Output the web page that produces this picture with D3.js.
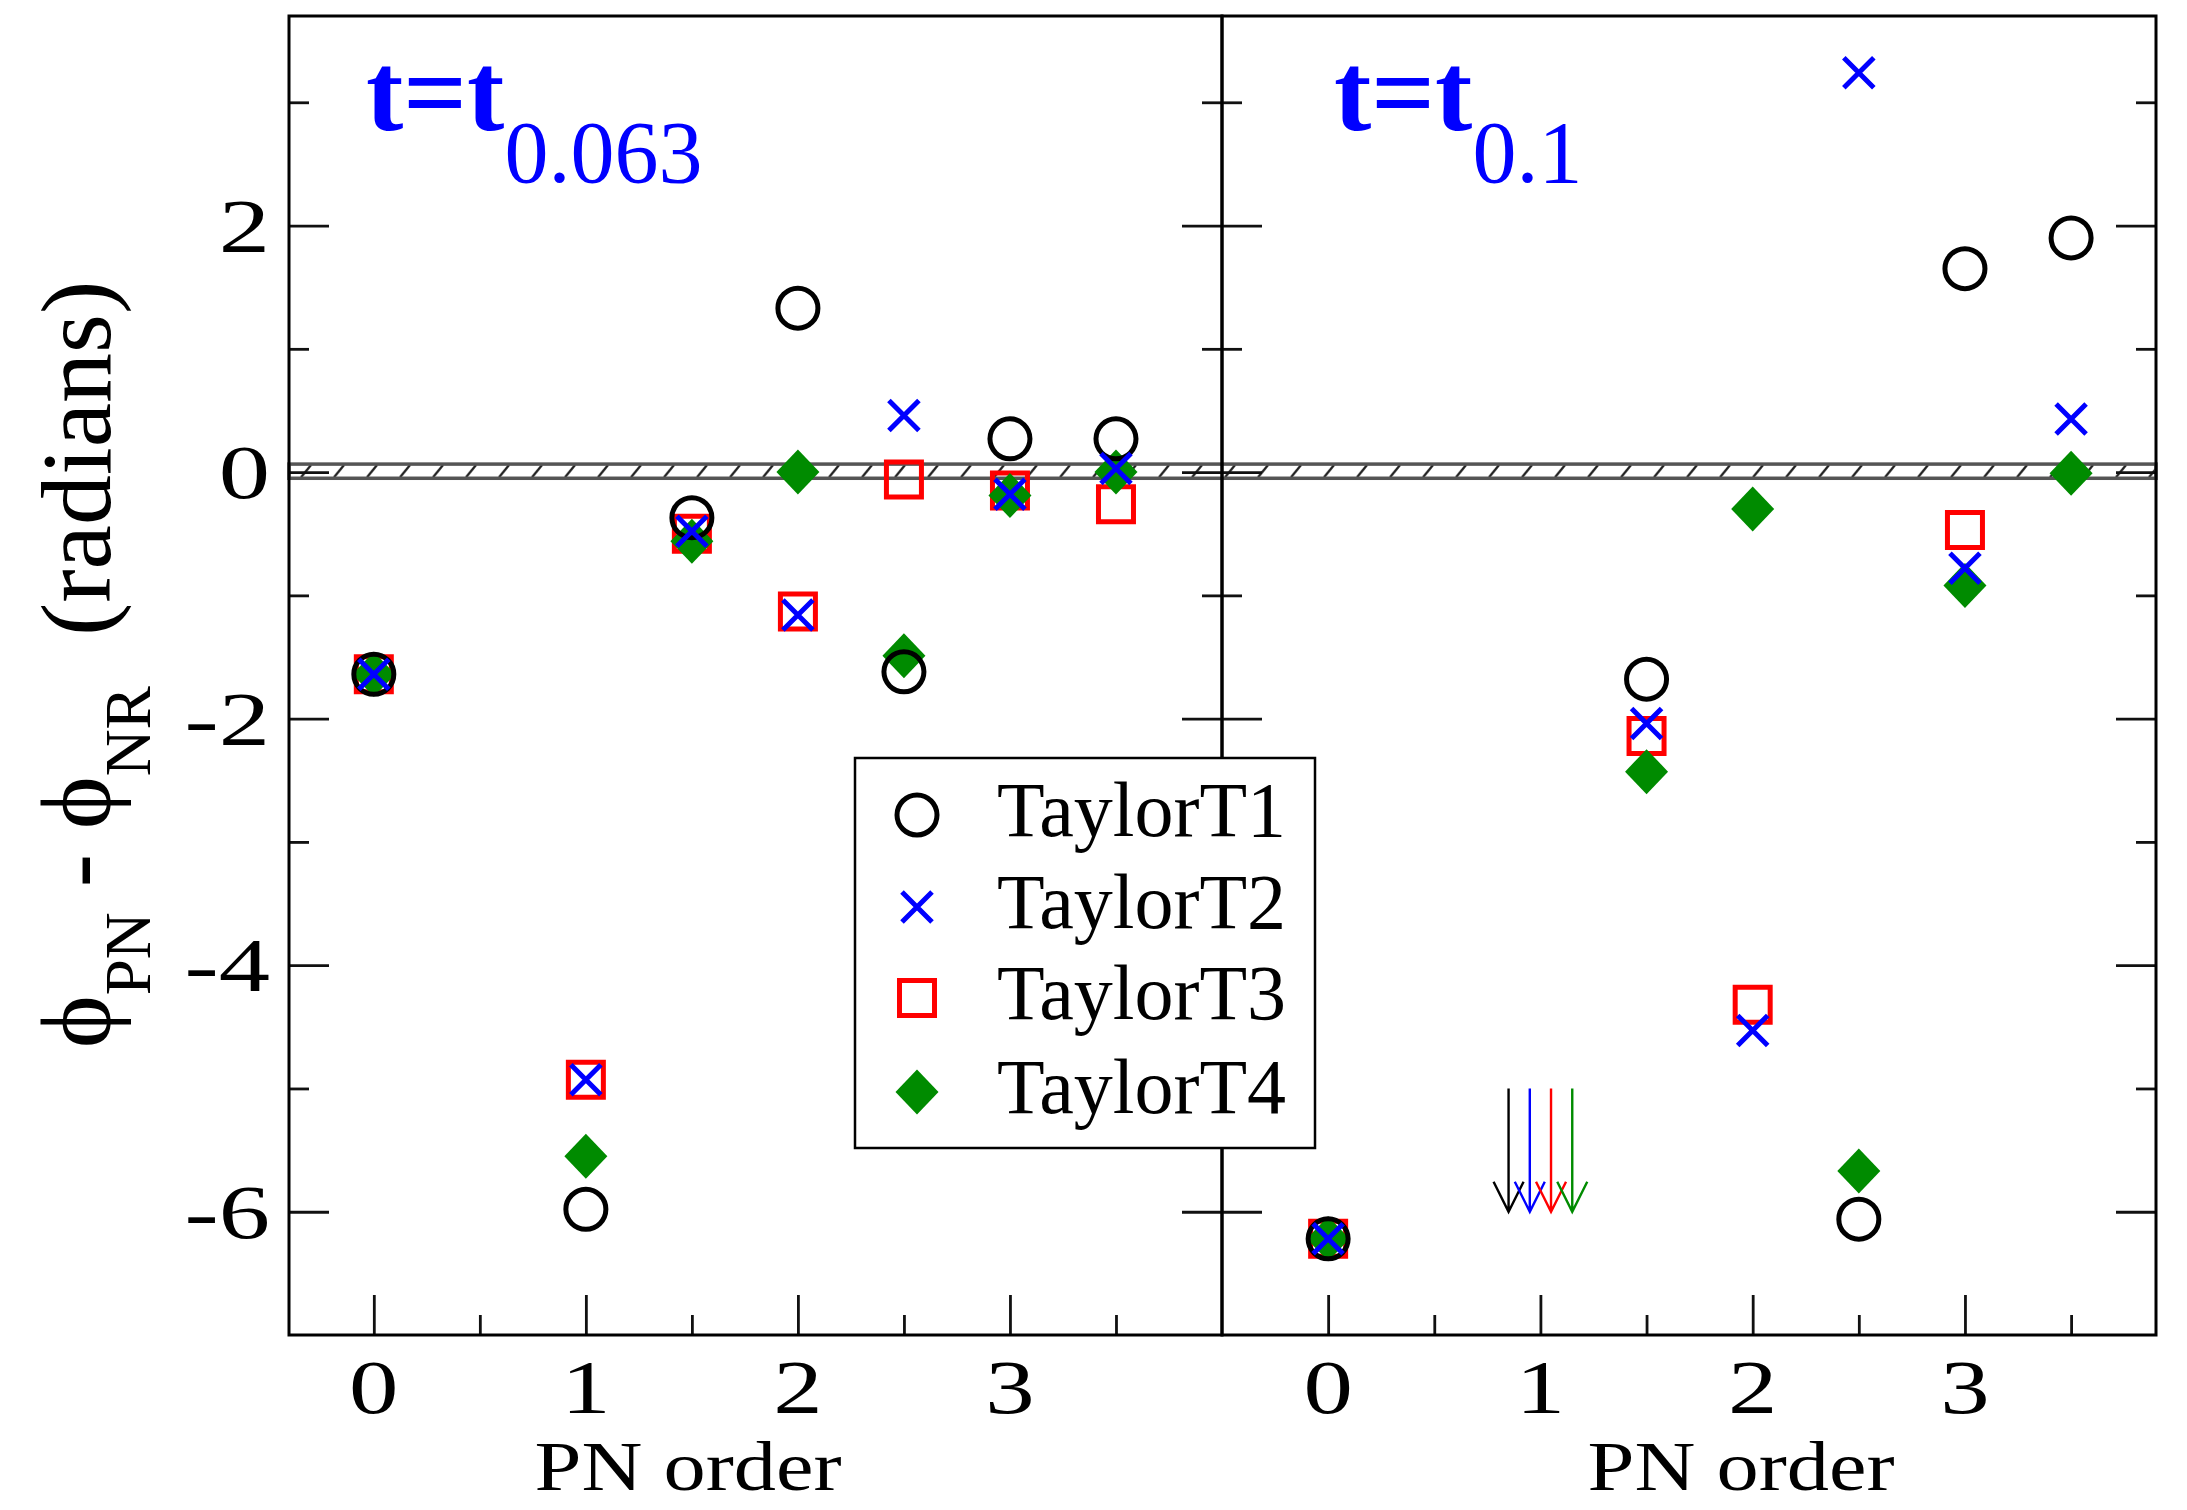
<!DOCTYPE html>
<html>
<head>
<meta charset="utf-8">
<script src="https://cdn.jsdelivr.net/npm/d3@7"></script>
<style>
  body { margin: 0; background: #fff; }
  text { font-family: "Liberation Serif", "Times New Roman", Times, serif; }
</style>
</head>
<body>
<svg width="2187" height="1510"></svg>
<script>
var svg = d3.select("svg");

// PN orders on the x axis
var pnOrders = [0, 1, 1.5, 2, 2.5, 3, 3.5];
var seriesNames = ["TaylorT1", "TaylorT2", "TaylorT3", "TaylorT4"];

// left panel, t = t_0.063
var t063T1 = [-1.64, -5.98, -0.37, 1.33, -1.62, 0.27, 0.27];
var t063T2 = [-1.64, -4.93, -0.48, -1.16, 0.46, -0.18, 0.03];
var t063T3 = [-1.64, -4.93, -0.50, -1.13, -0.06, -0.15, -0.26];
var t063T4 = [-1.64, -5.55, -0.56, 0.00, -1.49, -0.19, 0.00];

// right panel, t = t_0.1 (null = off the plot)
var t01T1 = [-6.22, null, -1.68, null, -6.06, 1.65, 1.90];
var t01T2 = [-6.22, null, -2.04, -4.53, 3.24, -0.78, 0.43];
var t01T3 = [-6.22, null, -2.14, -4.32, null, -0.47, null];
var t01T4 = [-6.22, null, -2.43, -0.30, -5.67, -0.92, -0.01];

// off-scale arrows (right panel, near 1PN)
var arrowX = [0.85, 0.95, 1.05, 1.15];
var arrowFrom = -5.0, arrowTo = -6.0;

var yMajor = [-6, -4, -2, 0, 2];
var yMinor = [-5, -3, -1, 1, 3];
var xMajor = [0, 1, 2, 3];
var xMinor = [0.5, 1.5, 2.5, 3.5];
var band = [-0.05, 0.065];

var colors = ["#000000", "#0000ff", "#ff0000", "#008b00"];
var shapes = ["circle", "x", "square", "diamond"];

var plotTop = 16, plotBottom = 1335;
var y = d3.scaleLinear().domain([-7, 3.7]).range([plotBottom, plotTop]);
var xL = d3.scaleLinear().domain([-0.4, 4.0]).range([289, 1222]);
var xR = d3.scaleLinear().domain([-0.5, 3.9]).range([1222, 2156]);

var panels = [
  { x: xL, data: [t063T1, t063T2, t063T3, t063T4], title: "0.063", tx: 366, lab: 688 },
  { x: xR, data: [t01T1, t01T2, t01T3, t01T4], title: "0.1", tx: 1334, lab: 1741 }
];

// hatch pattern for the zero band
var bandTop = y(band[1]), bandH = y(band[0]) - y(band[1]);
var pat = svg.append("defs").append("pattern")
    .attr("id", "hatch")
    .attr("patternUnits", "userSpaceOnUse")
    .attr("x", 0).attr("y", bandTop)
    .attr("width", 33).attr("height", bandH);
pat.append("path")
    .attr("d", "M4," + (bandH - 1) + "L14,1")
    .attr("stroke", "#222").attr("stroke-width", 2.4).attr("fill", "none");

svg.append("rect")
    .attr("x", xL.range()[0]).attr("y", bandTop)
    .attr("width", xR.range()[1] - xL.range()[0]).attr("height", bandH)
    .attr("fill", "url(#hatch)")
    .attr("stroke", "#555").attr("stroke-width", 3.5);

function tickAxis(gen, values, size, tx, ty) {
  svg.append("g")
      .attr("transform", "translate(" + tx + "," + ty + ")")
      .call(gen.tickValues(values).tickSizeInner(size).tickSizeOuter(0).tickFormat(""))
      .call(function(g) { g.select(".domain").remove(); })
      .selectAll("line").attr("stroke", "#111").attr("stroke-width", 2.8);
}

function symbolPath(shape) {
  if (shape == "x") return "M-15,-15L15,15M-15,15L15,-15";
  if (shape == "square") return "M-17.5,-17.5H17.5V17.5H-17.5Z";
  if (shape == "diamond") return "M0,-22.5L21.5,0L0,22.5L-21.5,0Z";
  return d3.symbol(d3.symbolCircle, Math.PI * 20 * 20)();
}

function drawSymbol(g, shape, color) {
  var p = g.append("path").attr("d", symbolPath(shape));
  if (shape == "diamond") p.attr("fill", color);
  else p.attr("fill", "none").attr("stroke", color).attr("stroke-width", 5);
}

panels.forEach(function(p) {
  var x0 = p.x.range()[0], x1 = p.x.range()[1];

  tickAxis(d3.axisLeft(y), yMajor, -40, x0, 0);
  tickAxis(d3.axisLeft(y), yMinor, -20, x0, 0);
  tickAxis(d3.axisRight(y), yMajor, -40, x1, 0);
  tickAxis(d3.axisRight(y), yMinor, -20, x1, 0);
  tickAxis(d3.axisBottom(p.x), xMajor, -40, 0, plotBottom);
  tickAxis(d3.axisBottom(p.x), xMinor, -20, 0, plotBottom);

  svg.append("rect")
      .attr("x", x0).attr("y", plotTop)
      .attr("width", x1 - x0).attr("height", plotBottom - plotTop)
      .attr("fill", "none").attr("stroke", "#000").attr("stroke-width", 3);

  // x tick labels
  svg.append("g").selectAll("g")
    .data(xMajor).enter().append("g")
      .attr("transform", function(d) { return "translate(" + p.x(d) + ",1413) scale(1.3,1)"; })
    .append("text")
      .attr("text-anchor", "middle")
      .attr("font-size", 76)
      .text(function(d) { return d; });

  svg.append("text")
      .attr("x", p.lab).attr("y", 1490)
      .attr("text-anchor", "middle")
      .attr("font-size", 70)
      .attr("textLength", 307).attr("lengthAdjust", "spacingAndGlyphs")
      .text("PN order");

  // markers: squares, diamonds, circles, then crosses on top
  [2, 3, 0, 1].forEach(function(s) {
    var pts = pnOrders.map(function(o, i) { return { o: o, v: p.data[s][i] }; })
        .filter(function(d) { return d.v != null; });
    svg.append("g").selectAll("g")
      .data(pts).enter().append("g")
        .attr("transform", function(d) { return "translate(" + p.x(d.o) + "," + y(d.v) + ")"; })
        .each(function() { drawSymbol(d3.select(this), shapes[s], colors[s]); });
  });

  var t = svg.append("text")
      .attr("x", p.tx).attr("y", 130)
      .attr("fill", "#0000ff");
  t.append("tspan").attr("font-size", 112).attr("font-weight", "bold").text("t=t");
  t.append("tspan").attr("font-size", 88).attr("dy", 52).text(p.title);
});

// arrows for off-scale points at 1PN (right panel)
arrowX.forEach(function(ax, i) {
  var ex = xR(ax), y0 = y(arrowFrom), y1 = y(arrowTo);
  svg.append("path")
      .attr("d", "M" + ex + "," + y0 + "V" + y1 + "M" + (ex - 15) + "," + (y1 - 30) + "L" + ex + "," + y1 + "L" + (ex + 15) + "," + (y1 - 30))
      .attr("fill", "none").attr("stroke", colors[i]).attr("stroke-width", 2.4);
});

// y tick labels
svg.append("g").selectAll("g")
  .data(yMajor).enter().append("g")
    .attr("transform", function(d) { return "translate(270," + (y(d) + 26) + ") scale(1.35,1)"; })
  .append("text")
    .attr("text-anchor", "end")
    .attr("font-size", 76)
    .text(function(d) { return d; });

// y axis label
var yl = svg.append("text")
    .attr("transform", "translate(110,1048) rotate(-90)")
    .attr("font-size", 100);
yl.append("tspan").text("\u03d5");
yl.append("tspan").attr("font-size", 65).attr("dy", 40).text("PN");
yl.append("tspan").attr("dy", -40).text(" - \u03d5");
yl.append("tspan").attr("font-size", 65).attr("dy", 40).text("NR");
yl.append("tspan").attr("dy", -40).attr("dx", 50).text("(radians)");

// legend
var lg = svg.append("g");
lg.append("rect")
    .attr("x", 855).attr("y", 758).attr("width", 460).attr("height", 390)
    .attr("fill", "#fff").attr("stroke", "#000").attr("stroke-width", 2.5);
var rowY = [815, 907, 998, 1092];
seriesNames.forEach(function(name, i) {
  var g = lg.append("g").attr("transform", "translate(917," + rowY[i] + ")");
  drawSymbol(g, shapes[i], colors[i]);
  lg.append("text")
      .attr("x", 997).attr("y", rowY[i] + 21)
      .attr("font-size", 78)
      .text(name);
});
</script>
</body>
</html>
